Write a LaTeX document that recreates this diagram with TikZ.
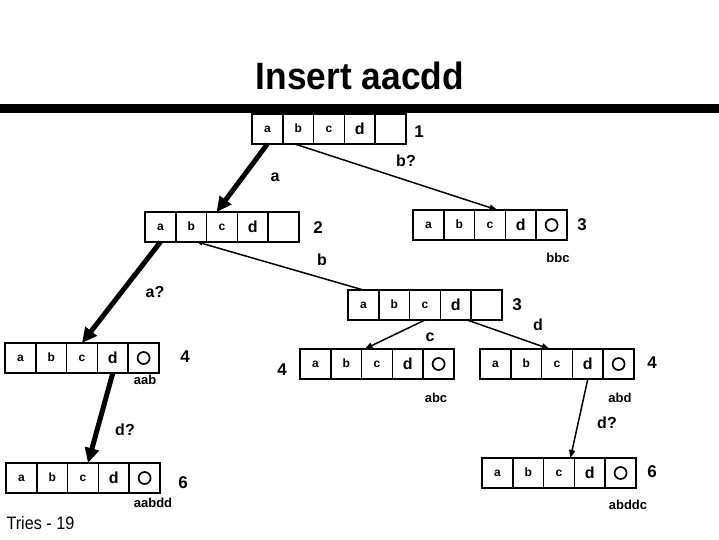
\documentclass[tikz,border=0pt]{standalone}
\usepackage{fontspec}
\setmainfont{Liberation Sans}
\usetikzlibrary{positioning, calc, arrows.meta}

% one trie node: five cells a b c d and an end cell
\newcommand{\trienode}[4]{%
  \node [cell, anchor=north west] (#1-a) at (#2,#3) {\cellfont a};
  \node [cell, right=0 of #1-a] (#1-b) {\cellfont b};
  \node [cell, right=0 of #1-b] (#1-c) {\cellfont c};
  \node [cell, right=0 of #1-c] (#1-d) {\dcellfont\raisebox{-2pt}{d}};
  \node [cell, #4, right=0 of #1-d] (#1-e) {};
}
\newcommand{\cellfont}{\fontsize{12}{13}\selectfont\bfseries}
\newcommand{\dcellfont}{\fontsize{16}{17}\selectfont\bfseries}

\begin{document}
\begin{tikzpicture}[x=1pt, y=1pt]

  \tikzstyle{cell}=[draw, line width=1.6pt, minimum width=30.8pt, minimum height=30pt, inner sep=0, outer sep=0, text height=6pt, text depth=0pt]
  \tikzstyle{leaf}=[path picture={\draw[line width=1.7pt] (path picture bounding box.center) circle (6);}]
  \tikzstyle{none}=[]
  \tikzstyle{count}=[font=\fontsize{17}{18}\selectfont\bfseries]
  \tikzstyle{edge}=[font=\fontsize{16}{17}\selectfont\bfseries]
  \tikzstyle{word}=[font=\fontsize{13}{14}\selectfont\bfseries]
  \tikzstyle{fat}=[line width=5pt, -{Triangle[length=15pt, width=14pt]}]
  \tikzstyle{thin}=[line width=1.5pt, -{Triangle[length=8pt, width=6pt]}]

  \useasboundingbox (0,0) rectangle (719,-539);

  \node (title) at (360,-76) {\fontsize{38}{40}\selectfont\bfseries\scalebox{0.93}[1]{Insert aacdd}};
  \fill (0,-104) rectangle (719,-113);

  \trienode{root}{252}{-114}{none}
  \trienode{a}{145}{-212}{none}
  \trienode{b}{413}{-210}{leaf}
  \trienode{ab}{348}{-290}{none}
  \trienode{aa}{5}{-343}{leaf}
  \trienode{abc}{300}{-349}{leaf}
  \trienode{abd}{480}{-349}{leaf}
  \trienode{aad}{6}{-463}{leaf}
  \trienode{abdd}{482}{-458}{leaf}

  % counts
  \node [count] (n-root) at (419,-132) {1};
  \node [count] (n-a) at (318,-228) {2};
  \node [count] (n-b) at (582,-225) {3};
  \node [count] (n-ab) at (517,-305) {3};
  \node [count] (n-aa) at (185,-357) {4};
  \node [count] (n-abc) at (282,-370) {4};
  \node [count] (n-abd) at (652,-363) {4};
  \node [count] (n-aad) at (183,-483) {6};
  \node [count] (n-abdd) at (652,-472) {6};

  % stored words
  \node [word] (w-b) at (558,-258) {bbc};
  \node [word] (w-aa) at (145,-380) {aab};
  \node [word] (w-abc) at (436,-398) {abc};
  \node [word] (w-abd) at (620,-398) {abd};
  \node [word] (w-aad) at (153,-503) {aabdd};
  \node [word] (w-abdd) at (628,-505) {abddc};

  \node [anchor=west] (tries) at (3,-523) {\fontsize{18}{19}\selectfont\scalebox{0.9}[1]{Tries - 19}};

  % edges
  \draw [fat] (root-a.south) -- ($(a-c.north west)+(10,0)$);
  \draw [thin] ($(root-b.south west)+(12,0)$) -- ($(b-d.north west)+(-8,0)$);
  \draw [fat] (a-a.south) -- (aa-c.north);
  \draw [line width=1.5pt, {Triangle[length=5pt, width=4pt]}-] ($(a-b.south)+(6,0)$) -- (ab-a.north);
  \draw [thin] (ab-c.south) -- ($(abc-c.north west)+(3,0)$);
  \draw [thin] ($(ab-d.south east)+(-4,0)$) -- ($(abd-c.north west)+(8,0)$);
  \draw [fat] (aa-d.south) -- ($(aad-c.north)+(5,0)$);
  \draw [thin] (abd-d.south) -- ($(abdd-d.north west)+(-4,0)$);

  \node [edge] (e-a) at (275,-177) {a};
  \node [edge] (e-b1) at (406,-161) {b?};
  \node [edge] (e-b2) at (322,-260) {b};
  \node [edge] (e-aa) at (155,-292) {a?};
  \node [edge] (e-abc) at (430,-337) {c};
  \node [edge] (e-abd) at (538,-325) {d};
  \node [edge] (e-aad) at (125,-430) {d?};
  \node [edge] (e-abdd) at (607,-423) {d?};

\end{tikzpicture}
\end{document}
